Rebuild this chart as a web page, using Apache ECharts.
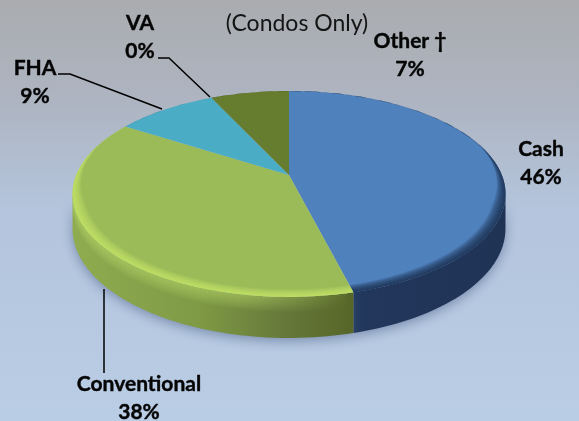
<!DOCTYPE html>
<html>
<head>
<meta charset="utf-8">
<style>
  html, body { margin: 0; padding: 0; }
  #chart { width: 579px; height: 421px; }
</style>
<script src="https://cdn.jsdelivr.net/npm/echarts@6/dist/echarts.min.js"></script>
</head>
<body>
<div id="chart"></div>
<script>
const categories = ['Cash', 'Conventional', 'FHA', 'VA', 'Other †'];
const shares = [46, 38, 9, 0, 7];
const subtitle = '(Condos Only)';

const topColors = ['#4f81bd', '#9bbb59', '#4bacc6', '#8064a2', '#667c2e'];
const rimColors = ['rgba(24,42,72,0.17)', 'rgba(206,240,112,0.13)', 'rgba(40,120,140,0.08)', 'rgba(0,0,0,0)', 'rgba(60,75,25,0.08)'];
const labelAnchors = [[541, 163], [139, 398], [35, 82], [140, 37], [410, 55]];

// tilted disc: circle -> ellipse with a bit of perspective, so the centre sits above the ellipse middle
const cx = 289, cy = 175, ax = 212.8, ay = 99.5, persp = 0.184, depth = 33.5;
const total = shares.reduce((a, b) => a + b, 0);

function pt(deg, r, drop) {
  const t = deg * Math.PI / 180;
  const u = r * Math.sin(t), v = -r * Math.cos(t);
  const w = 1 - persp * v;
  return [cx + ax * u / w, cy + (ay * v + (drop || 0)) / w];
}
function arc(a0, a1, r, drop) {
  const out = [];
  const n = Math.max(2, Math.ceil((a1 - a0) / 1.5));
  for (let i = 0; i <= n; i++) out.push(pt(a0 + (a1 - a0) * i / n, r, drop));
  return out;
}
function range(i) {
  const before = shares.slice(0, i).reduce((a, b) => a + b, 0);
  return [before / total * 360, (before + shares[i]) / total * 360];
}
// ring along the outer edge, full width at the front and sides, hairline at the back
function rimBand(a0, a1, t) {
  const outer = arc(a0, a1, 1);
  const inner = [];
  const n = outer.length - 1;
  for (let i = n; i >= 0; i--) {
    const deg = a0 + (a1 - a0) * i / n;
    const f = Math.min(1, Math.max(0, (0.3 - Math.cos(deg * Math.PI / 180)) / 0.6));
    inner.push(pt(deg, 1 - t * (0.05 + 0.95 * f)));
  }
  return outer.concat(inner);
}

const wallFrom = 100.6, wallTo = 259.4;
const wallFills = [
  new echarts.graphic.LinearGradient(353, 0, 506, 0, [
    { offset: 0, color: '#22375c' }, { offset: 1, color: '#1f3355' }
  ], true),
  new echarts.graphic.LinearGradient(73, 0, 353, 0, [
    { offset: 0, color: '#8fac50' }, { offset: 0.45, color: '#7f9a45' },
    { offset: 0.75, color: '#66793a' }, { offset: 1, color: '#566628' }
  ], true)
];

function renderWall(params) {
  const i = params.dataIndex;
  const [s, e] = range(i);
  const a0 = Math.max(s, wallFrom), a1 = Math.min(e, wallTo);
  if (a1 <= a0) return { type: 'group', children: [] };
  const children = [{
    type: 'polygon',
    shape: { points: arc(a0, a1, 1).concat(arc(a0, a1, 1, depth).reverse()) },
    style: {
      fill: wallFills[i],
      shadowBlur: 12, shadowColor: 'rgba(70,90,130,0.55)', shadowOffsetX: 0, shadowOffsetY: 3
    }
  }];
  if (i === 1) {
    // soft light along the top of the green wall
    for (let k = 1; k <= 10; k++) {
      children.push({
        type: 'polygon',
        shape: { points: arc(a0, a1, 1).concat(arc(a0, a1, 1, k * 1.2).reverse()) },
        style: {
          fill: new echarts.graphic.LinearGradient(73, 0, 353, 0, [
            { offset: 0, color: 'rgba(190,225,110,0.06)' },
            { offset: 0.6, color: 'rgba(190,225,110,0.06)' },
            { offset: 1, color: 'rgba(190,225,110,0)' }
          ], true)
        }
      });
    }
  }
  return { type: 'group', children: children };
}

function renderTop(params, api) {
  const i = params.dataIndex;
  const [s, e] = range(i);
  const children = [];
  if (e > s) {
    children.push({
      type: 'polygon',
      shape: { points: [[cx, cy]].concat(arc(s, e, 1)) },
      style: { fill: topColors[i] }
    });
    for (let k = 1; k <= 8; k++) {
      children.push({
        type: 'polygon',
        shape: { points: rimBand(s, e, 0.0065 * k) },
        style: { fill: rimColors[i] }
      });
    }
  }
  children.push({
    type: 'text',
    style: {
      x: labelAnchors[i][0], y: labelAnchors[i][1],
      text: categories[i] + '\n' + api.value(0) + '%',
      fill: '#050505', stroke: '#050505', lineWidth: 0.4,
      fontFamily: 'Lato', fontSize: 21, fontWeight: 'bold',
      align: 'center', verticalAlign: 'middle', lineHeight: 28
    }
  });
  return { type: 'group', children: children };
}

const rows = shares.map(v => [v]);
const chart = echarts.init(document.getElementById('chart'));
chart.setOption({
  animation: false,
  backgroundColor: new echarts.graphic.LinearGradient(0, 0, 0, 1, [
    { offset: 0, color: '#aaacaf' },
    { offset: 0.25, color: '#aeb5c2' },
    { offset: 0.5, color: '#b4c5dd' },
    { offset: 1, color: '#b9cde5' }
  ]),
  title: {
    text: subtitle, left: 292, top: 7, textAlign: 'center',
    textStyle: { fontFamily: 'Lato', fontWeight: 'normal', fontSize: 23, color: '#141414' }
  },
  series: [
    { type: 'custom', coordinateSystem: 'none', silent: true, data: rows, renderItem: renderWall },
    { type: 'custom', coordinateSystem: 'none', silent: true, data: rows, renderItem: renderTop }
  ],
  graphic: [
    { type: 'polyline', z: 20, shape: { points: [[58, 74], [70, 74], [162, 109]] }, style: { stroke: '#000', lineWidth: 1.5, fill: null } },
    { type: 'polyline', z: 20, shape: { points: [[158, 58], [169, 58], [210, 97]] }, style: { stroke: '#000', lineWidth: 1.5, fill: null } },
    { type: 'polyline', z: 20, shape: { points: [[104, 289], [104, 373]] }, style: { stroke: '#000', lineWidth: 1.5, fill: null } }
  ]
});
</script>
</body>
</html>
